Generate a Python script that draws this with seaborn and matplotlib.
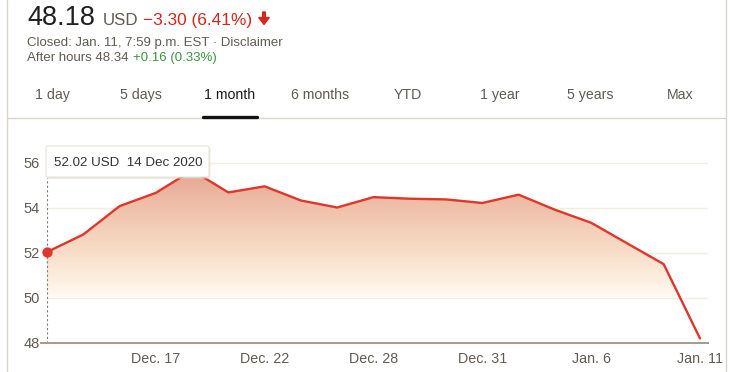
import numpy as np
import pandas as pd
import matplotlib
matplotlib.use("Agg")
import matplotlib.pyplot as plt
import matplotlib.patches as mpatches
import matplotlib.transforms as mtransforms
from matplotlib.colors import LinearSegmentedColormap
import seaborn as sns

# Data (daily closes, 1 month view)
dates = ["Dec 14", "Dec 15", "Dec 16", "Dec 17", "Dec 18", "Dec 21", "Dec 22",
         "Dec 23", "Dec 24", "Dec 28", "Dec 29", "Dec 30", "Dec 31", "Jan 4",
         "Jan 5", "Jan 6", "Jan 7", "Jan 8", "Jan 11"]
prices = [52.02, 52.80, 54.06, 54.65, 55.65, 54.67, 54.94, 54.31, 54.00, 54.46,
          54.39, 54.36, 54.20, 54.57, 53.90, 53.32, 52.40, 51.48, 48.18]
tick_dates = ["Dec 17", "Dec 22", "Dec 28", "Dec 31", "Jan 6", "Jan 11"]
tick_labels = ["Dec. 17", "Dec. 22", "Dec. 28", "Dec. 31", "Jan. 6", "Jan. 11"]
y_ticks = [48, 50, 52, 54, 56]
tabs = ["1 day", "5 days", "1 month", "6 months", "YTD", "1 year", "5 years", "Max"]

df = pd.DataFrame({"date": dates, "price": prices})
df["idx"] = np.arange(len(df))

sns.set_theme(style="white")
plt.rcParams['font.family'] = ['Liberation Sans', 'DejaVu Sans']

W, H = 730, 372
fig = plt.figure(figsize=(W / 100, H / 100), dpi=100)
# pixel transform, origin top-left
T = mtransforms.Affine2D().scale(1 / W, -1 / H).translate(0, 1) + fig.transFigure

grey = '#615b51'
red = '#d3271c'
green = '#3a963e'
line_col = '#dcd5ca'

# header
fig.text(27, 25, "48.18", transform=T, fontsize=19.5, color='#202020')
fig.text(103, 25, "USD", transform=T, fontsize=12.2, color=grey)
fig.text(143, 25, "\u22123.30 (6.41%)", transform=T, fontsize=12.4, color=red)
fig.patches.append(mpatches.FancyArrow(264, 12, 0, 12.5, width=2.8, head_width=10.5,
                                       head_length=7, length_includes_head=True,
                                       color=red, transform=T))
fig.text(27, 46, "Closed: Jan. 11, 7:59 p.m. EST \u00b7 Disclaimer", transform=T,
         fontsize=9.5, color=grey)
fig.text(27, 61, "After hours 48.34", transform=T, fontsize=9.5, color=grey)
fig.text(133, 61, "+0.16 (0.33%)", transform=T, fontsize=9.5, color=green)

# tabs
tab_x = [52, 141, 230, 320, 408, 500, 590, 680]
for t, x in zip(tabs, tab_x):
    sel = t == "1 month"
    fig.text(x, 99, t, transform=T, fontsize=10.2, ha='center',
             color='#1a1a1a' if sel else grey)
fig.add_artist(plt.Line2D([7, 725], [118, 118], transform=T, color=line_col, lw=1))
fig.add_artist(plt.Line2D([203, 257], [116.5, 116.5], transform=T, color='#111111', lw=2.4))
fig.add_artist(plt.Line2D([7, 7], [0, H], transform=T, color=line_col, lw=1))
fig.add_artist(plt.Line2D([725.5, 725.5], [0, H], transform=T, color=line_col, lw=1))

# chart axes
px_per_idx = (700 - 47) / 18
ax_l, ax_r, ax_b, ax_t = 41, 708, 342.5, 130
ax = fig.add_axes([ax_l / W, 1 - ax_b / H, (ax_r - ax_l) / W, (ax_b - ax_t) / H])
ax.set_facecolor('none')
x0 = -(47 - ax_l) / px_per_idx
x1 = 18 + (ax_r - 700) / px_per_idx
ylo = 48
yhi = 48 + (ax_b - ax_t) / 22.5

# gradient fill under the line, down to 50
cmap = LinearSegmentedColormap.from_list(
    "fill", [(0.0, '#fffbf3'), (0.12, '#fdf0e1'), (0.4, '#f7d9c3'),
             (0.75, '#eebca5'), (1.0, '#e5a290')])
grad = np.linspace(0, 1, 256).reshape(-1, 1)
im = ax.imshow(grad, extent=[0, 18, 50, 55.7], origin='lower', aspect='auto',
               cmap=cmap, zorder=1)
poly = ax.fill_between(df["idx"], df["price"], 50, color='none')
im.set_clip_path(poly.get_paths()[0], ax.transData)
poly.remove()

for yv in [50, 52, 54, 56]:
    ax.hlines(yv, 0, x1, color='#f2eedb', lw=1.0, zorder=0.5)

sns.lineplot(data=df, x="idx", y="price", ax=ax, color='#e0362b', linewidth=1.7, zorder=3)

# hover marker
ax.plot([0, 0], [48, 55.3], color='#857d70', lw=0.8, ls=(0, (2, 2)), zorder=2)
ax.scatter([0], [prices[0]], s=55, color='#e0362b', zorder=4, linewidths=0)

ax.set_xlim(x0, x1)
ax.set_ylim(ylo, yhi)
ax.set_xlabel("")
ax.set_ylabel("")
ax.set_yticks(y_ticks)
ax.set_yticklabels([str(v) for v in y_ticks])
ax.set_xticks([dates.index(d) for d in tick_dates])
ax.set_xticklabels(tick_labels)
ax.tick_params(axis='y', length=0, pad=1, labelsize=10.5, labelcolor=grey)
ax.tick_params(axis='x', length=5, width=1.1, color='#a59b8a', pad=2,
               labelsize=10.3, labelcolor=grey, direction='out')
for s in ['top', 'right', 'left']:
    ax.spines[s].set_visible(False)
ax.spines['bottom'].set_color('#a59b8a')
ax.spines['bottom'].set_linewidth(1.4)

# tooltip box
fig.patches.append(mpatches.FancyBboxPatch((47.5, 148), 163, 31, boxstyle="round,pad=0,rounding_size=2",
                                           transform=T, facecolor='#d9d3c6', edgecolor='none',
                                           alpha=0.5, zorder=5))
fig.patches.append(mpatches.FancyBboxPatch((46, 146), 163, 31, boxstyle="round,pad=0,rounding_size=2",
                                           transform=T, facecolor='white', edgecolor='#e8e3d8',
                                           lw=0.8, zorder=6))
fig.text(54, 166, "52.02 USD  14 Dec 2020", transform=T, fontsize=9.6,
         color='#333333', zorder=7)

fig.savefig("out.png", dpi=100)
